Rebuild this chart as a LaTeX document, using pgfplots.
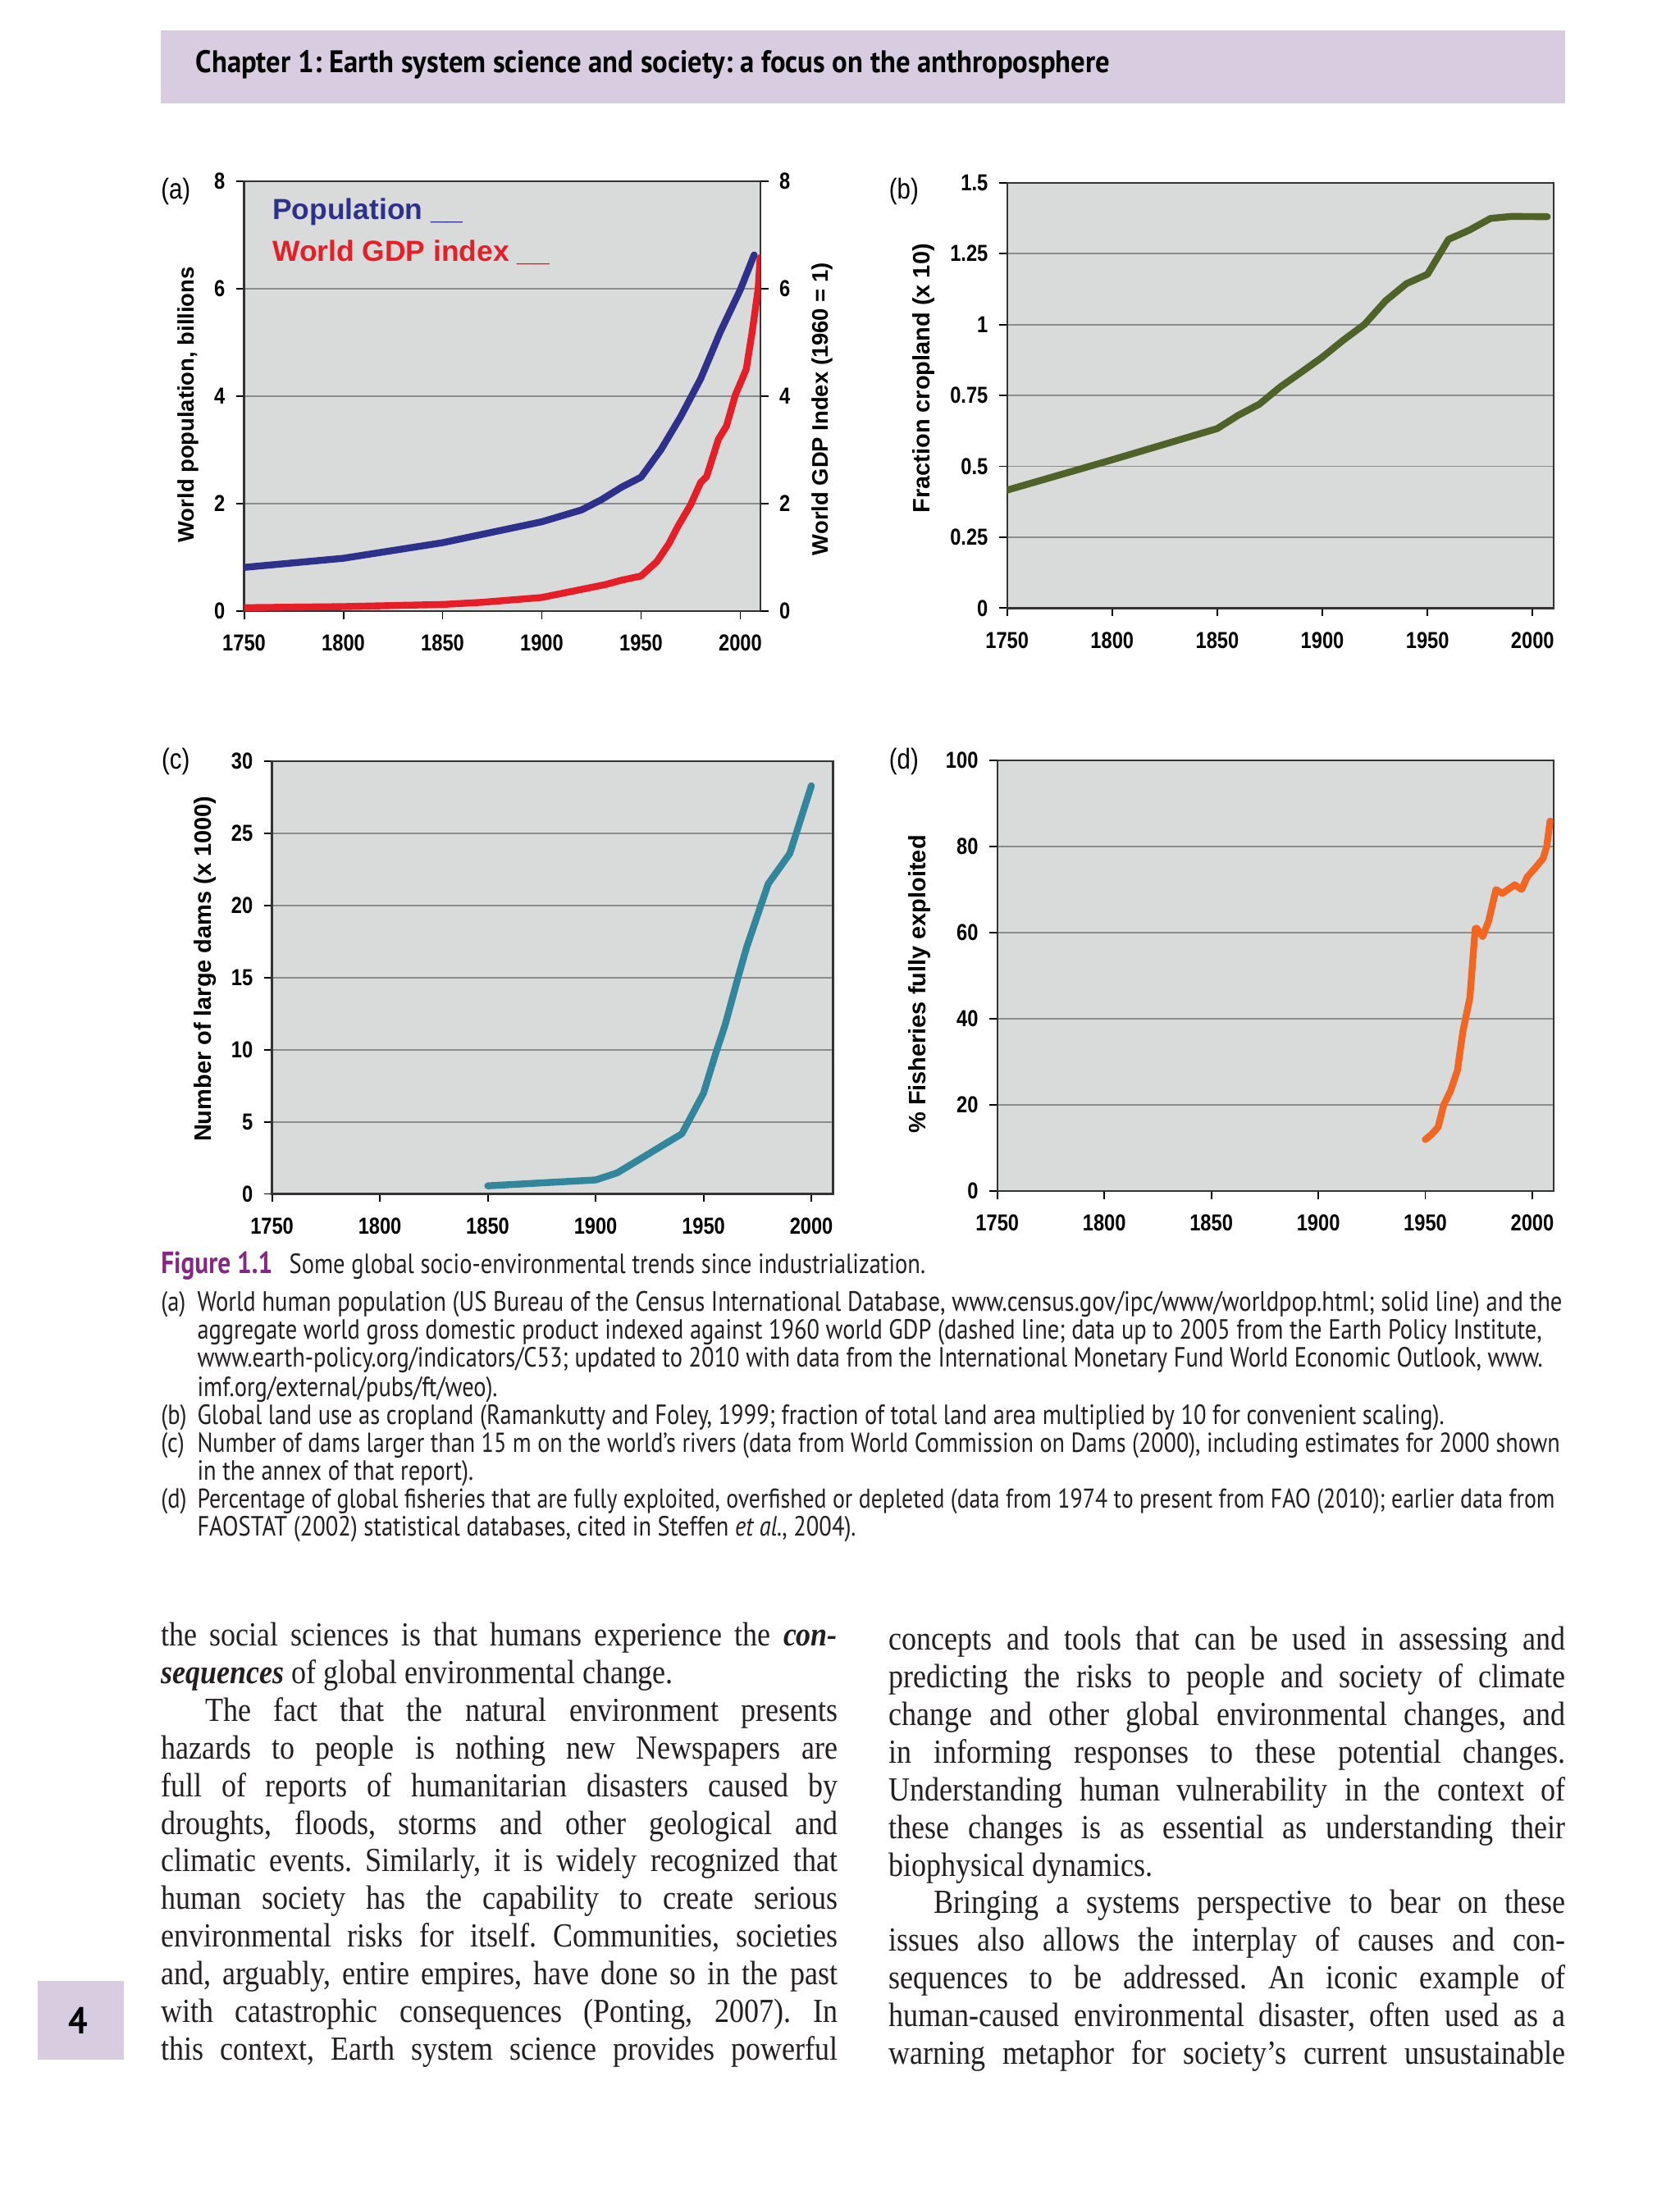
\documentclass[border=0pt]{standalone}
\usepackage{fontspec}
\setmainfont{Liberation Serif}[FakeStretch=0.875]
\newfontfamily\arialfont{Liberation Sans}
\newfontfamily\narrowfont[FakeStretch=0.84]{Liberation Sans}
\newfontfamily\capfont[FakeStretch=0.84]{PT Sans}
\newfontfamily\headfont[FakeStretch=0.91]{PT Sans}
\usepackage{pgfplots}
\pgfplotsset{compat=1.18}

\definecolor{barpurple}{RGB}{216,204,224}
\definecolor{plotbg}{RGB}{217,219,219}
\definecolor{gridc}{RGB}{140,140,140}
\definecolor{popblue}{RGB}{46,49,140}
\definecolor{gdpred}{RGB}{230,30,40}
\definecolor{cropgreen}{RGB}{79,98,40}
\definecolor{damteal}{RGB}{49,134,155}
\definecolor{fishorange}{RGB}{242,102,34}
\definecolor{figpurple}{RGB}{133,40,132}
\definecolor{ink}{RGB}{35,31,32}

% page is 1204.4 x 1567.3 units
\def\u{0.15693mm}
\newlength\colw
\setlength\colw{76.11mm}
\newcommand\jline[3]{\node[anchor=base west,inner sep=0pt] at (#1,#2) {\hbox to \colw{#3}};}
\newcommand\nline[3]{\node[anchor=base west,inner sep=0pt] at (#1,#2) {#3};}

\pgfplotsset{
  base/.style={
    scale only axis,
    xmin=1750, xmax=2010,
    tick align=outside,
    major tick length=2.6pt,
    tick style={black, line width=0.5pt},
    axis line style={black!80, line width=0.6pt},
    /pgf/number format/1000 sep={},
    /pgf/number format/assume math mode=true,
    tick label style={font=\narrowfont\bfseries\fontsize{7.4}{8}\selectfont},
    label style={font=\arialfont\bfseries\fontsize{7.6}{9}\selectfont},
    ylabel shift=-2pt,
    every axis plot/.append style={line width=2.2pt, line join=round, line cap=round, mark=none},
  },
  panel/.style={
    base,
    axis background/.style={fill=plotbg},
    xtick={1750,1800,1850,1900,1950,2000},
    xtick pos=left, ytick pos=left,
    ymajorgrids,
    grid style={gridc, line width=0.5pt},
    xticklabel style={yshift=-1.5pt},
  },
}

\begin{document}
\frenchspacing
\begin{tikzpicture}

% (a) population, left axis
\begin{axis}[panel, at={(175*\u,-438*\u)}, anchor=south west,
  width=58.06mm, height=48.34mm,
  ymin=0, ymax=8, ytick={0,2,4,6,8},
  ylabel style={at={(ticklabel cs:0.48)}, font=\arialfont\bfseries\fontsize{7.2}{9}\selectfont},
  ylabel={World population, billions}]
\addplot[popblue] coordinates {
  (1750,0.81)(1800,0.98)(1850,1.27)(1900,1.66)(1920,1.88)(1930,2.07)
  (1940,2.30)(1950,2.49)(1960,3.00)(1970,3.62)(1980,4.32)(1990,5.20)
  (2000,5.98)(2007,6.63)};
\end{axis}

% (a) GDP index, right axis
\begin{axis}[base, at={(175*\u,-438*\u)}, anchor=south west,
  width=58.06mm, height=48.34mm,
  ymin=0, ymax=8, ytick={0,2,4,6,8},
  hide x axis, axis y line*=right, ylabel shift=0pt,
  ylabel style={at={(ticklabel cs:0.47)}, font=\arialfont\bfseries\fontsize{7.2}{9}\selectfont},
  ylabel={World GDP Index (1960 = 1)}]
\addplot[gdpred] coordinates {
  (1750,0.06)(1800,0.08)(1850,0.12)(1870,0.16)(1900,0.25)(1920,0.40)
  (1932,0.49)(1940,0.57)(1950,0.65)(1958,0.92)(1964,1.25)(1968.5,1.57)
  (1975,1.98)(1980,2.39)(1983,2.50)(1989,3.20)(1993,3.44)(1997.5,4.02)
  (2003,4.50)(2006,5.20)(2009,6.00)(2010,6.58)};
\end{axis}

% (b) cropland
\begin{axis}[panel, at={(722*\u,-436*\u)}, anchor=south west,
  width=61.49mm, height=47.87mm,
  ymin=0, ymax=1.5, ytick={0,0.25,0.5,0.75,1,1.25,1.5},
  ylabel style={at={(ticklabel cs:0.54)}},
  ylabel={Fraction cropland (x 10)}]
\addplot[cropgreen] coordinates {
  (1750,0.416)(1800,0.523)(1850,0.633)(1860,0.680)(1870,0.719)(1880,0.780)
  (1890,0.832)(1900,0.885)(1910,0.945)(1920,1.000)(1930,1.083)(1940,1.144)
  (1950,1.177)(1960,1.300)(1970,1.333)(1980,1.374)(1990,1.381)(2007,1.380)};
\end{axis}

% (c) dams
\begin{axis}[panel, at={(195*\u,-856*\u)}, anchor=south west,
  width=63.11mm, height=48.68mm,
  ymin=0, ymax=30, ytick={0,5,10,15,20,25,30},
  ylabel style={at={(ticklabel cs:0.52)}},
  ylabel={Number of large dams (x 1000)}]
\addplot[damteal] coordinates {
  (1850,0.56)(1900,0.97)(1910,1.46)(1920,2.36)(1930,3.27)(1940,4.17)
  (1950,6.98)(1956,9.9)(1960,11.7)(1966,15.0)(1970,17.1)(1980,21.5)
  (1990,23.6)(2000,28.3)};
\end{axis}

% (d) fisheries
\begin{axis}[panel, at={(715*\u,-854*\u)}, anchor=south west,
  width=62.60mm, height=48.48mm,
  ymin=0, ymax=100, ytick={0,20,40,60,80,100},
  ylabel style={at={(ticklabel cs:0.48)}},
  ylabel={\% Fisheries fully exploited}]
\addplot[fishorange] coordinates {
  (1950,12.0)(1952.8,13.1)(1956,14.9)(1958.6,20.0)(1961.8,23.3)(1965,28.0)
  (1967.6,37.2)(1970.8,44.8)(1973.3,60.9)(1974,61.0)(1976.8,59.1)(1979.6,62.7)
  (1983,70.0)(1986,69.1)(1991.8,71.1)(1995,70.0)(1997.6,72.9)(2001.5,75.1)
  (2005,77.2)(2006.7,79.9)(2008.3,85.9)};
\end{axis}

\begin{scope}[x=\u, y=-\u]
% running head
\fill[barpurple] (115,22) rectangle (1122,74);
\node[anchor=base west, inner sep=0pt, text=black,
  font=\headfont\bfseries\fontsize{10}{11}\selectfont] at (140,52)
  {Chapter 1: Earth system science and society: a focus on the anthroposphere};

% panel letters and legend
\begin{scope}[every node/.style={font=\narrowfont\fontsize{9.2}{11}\selectfont, inner sep=0pt}]
\node at (126,137) {(a)};
\node at (648,137) {(b)};
\node at (126,546) {(c)};
\node at (648,546) {(d)};
\end{scope}
\node[anchor=west, inner sep=0pt, text=popblue, font=\arialfont\bfseries\fontsize{9.3}{11}\selectfont]
  at (195,152) {Population \_\_};
\node[anchor=west, inner sep=0pt, text=gdpred, font=\arialfont\bfseries\fontsize{9.3}{11}\selectfont]
  at (195,181) {World GDP index \_\_};

% caption
\begin{scope}[every node/.style={font=\capfont\fontsize{8.9}{9}\selectfont, text=ink}]
\nline{115}{913}{\fontsize{9.8}{10}\selectfont\bfseries\color{figpurple}Figure 1.1}
\nline{207}{913}{Some global socio-environmental trends since industrialization.}
\nline{115}{940}{(a)}
\nline{141}{940}{\fontsize{8.95}{9}\selectfont World human population (US Bureau of the Census International Database, www.census.gov/ipc/www/worldpop.html; solid line) and the}
\nline{141}{960}{aggregate world gross domestic product indexed against 1960 world GDP (dashed line; data up to 2005 from the Earth Policy Institute,}
\nline{141}{980}{www.earth-policy.org/indicators/C53; updated to 2010 with data from the International Monetary Fund World Economic Outlook, www.}
\nline{141}{1001}{imf.org/external/pubs/ft/weo).}
\nline{115}{1021}{(b)}
\nline{141}{1021}{Global land use as cropland (Ramankutty and Foley, 1999; fraction of total land area multiplied by 10 for convenient scaling).}
\nline{115}{1041}{(c)}
\nline{141}{1041}{\fontsize{8.8}{9}\selectfont Number of dams larger than 15 m on the world’s rivers (data from World Commission on Dams (2000), including estimates for 2000 shown}
\nline{141}{1061}{in the annex of that report).}
\nline{115}{1081}{(d)}
\nline{141}{1081}{\fontsize{8.7}{9}\selectfont Percentage of global fisheries that are fully exploited, overfished or depleted (data from 1974 to present from FAO (2010); earlier data from}
\nline{141}{1101}{FAOSTAT (2002) statistical databases, cited in Steffen \textit{et al.}, 2004).}
\end{scope}

% body text, left column
\begin{scope}[every node/.style={font=\fontsize{10.8}{11}\selectfont, text=ink}]
\jline{115}{1180}{the social sciences is that humans experience the \textbf{\textit{con-}}}
\nline{115}{1207}{\textbf{\textit{sequences}} of global environmental change.}
\jline{115}{1234}{\hskip 5.02mm The fact that the natural environment presents}
\jline{115}{1261}{hazards to people is nothing new Newspapers are}
\jline{115}{1288}{full of reports of humanitarian disasters caused by}
\jline{115}{1315}{droughts, floods, storms and other geological and}
\jline{115}{1342}{climatic events. Similarly, it is widely recognized that}
\jline{115}{1369}{human society has the capability to create serious}
\jline{115}{1396}{environmental risks for itself. Communities, societies}
\jline{115}{1423}{and, arguably, entire empires, have done so in the past}
\jline{115}{1450}{with catastrophic consequences (Ponting, 2007). In}
\jline{115}{1477}{this context, Earth system science provides powerful}
% right column
\jline{637}{1183}{concepts and tools that can be used in assessing and}
\jline{637}{1210}{predicting the risks to people and society of climate}
\jline{637}{1237}{change and other global environmental changes, and}
\jline{637}{1264}{in informing responses to these potential changes.}
\jline{637}{1291}{Understanding human vulnerability in the context of}
\jline{637}{1318}{these changes is as essential as understanding their}
\nline{637}{1345}{biophysical dynamics.}
\jline{637}{1372}{\hskip 5.02mm Bringing a systems perspective to bear on these}
\jline{637}{1399}{issues also allows the interplay of causes and con-}
\jline{637}{1426}{sequences to be addressed. An iconic example of}
\jline{637}{1453}{human-caused environmental disaster, often used as a}
\jline{637}{1480}{warning metaphor for society’s current unsustainable}
\end{scope}

% page number
\fill[barpurple] (27,1420) rectangle (89,1477);
\node[font=\headfont\bfseries\fontsize{12}{13}\selectfont, text=black] at (56,1449) {4};

% the page itself is the picture's box
\pgfresetboundingbox
\path[use as bounding box] (0,0) rectangle (1204.4,1567.3);
\end{scope}
\end{tikzpicture}
\end{document}
